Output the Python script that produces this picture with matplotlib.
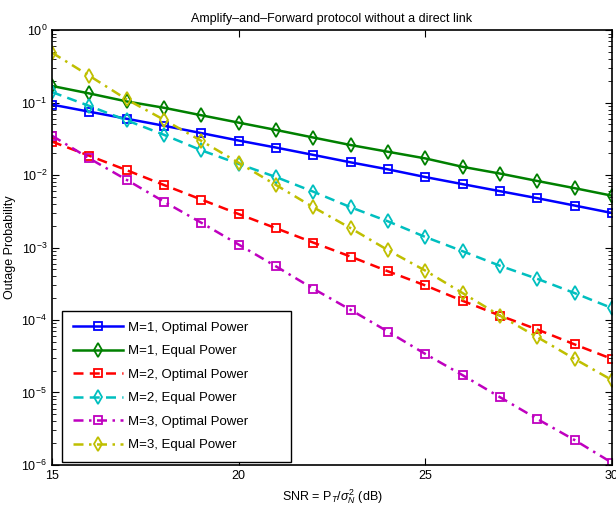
import matplotlib
matplotlib.use('Agg')
import matplotlib.pyplot as plt
from matplotlib.ticker import LogLocator, NullFormatter

plt.rcParams['font.family'] = ['Liberation Sans', 'DejaVu Sans']
plt.rcParams['mathtext.fontset'] = 'custom'
plt.rcParams['mathtext.rm'] = 'Liberation Sans'
plt.rcParams['mathtext.it'] = 'Liberation Sans:italic'

# SNR in dB
snr = list(range(15, 31))

# outage probability curves
m1_opt = [0.094, 0.075, 0.060, 0.048, 0.038, 0.030, 0.024, 0.019, 0.015, 0.012,
          0.0094, 0.0075, 0.0060, 0.0048, 0.0038, 0.0030]
m1_eq = [0.170, 0.134, 0.104, 0.085, 0.067, 0.053, 0.042, 0.033, 0.026, 0.021,
         0.017, 0.013, 0.0105, 0.0083, 0.0066, 0.0052]
m2_opt = [0.029, 0.0185, 0.0117, 0.0073, 0.0046, 0.0029, 0.00185, 0.00117, 0.00075, 0.00047,
          0.00030, 0.000184, 0.000115, 7.4e-5, 4.6e-5, 2.9e-5]
m2_eq = [0.14, 0.09, 0.057, 0.036, 0.022, 0.0143, 0.0094, 0.0059, 0.0036, 0.0023,
         0.0014, 0.00089, 0.00056, 0.00037, 0.000235, 0.000146]
m3_opt = [0.035, 0.017, 0.0086, 0.0043, 0.0022, 0.0011, 0.00055, 0.00027, 0.000138, 6.9e-5,
          3.4e-5, 1.73e-5, 8.6e-6, 4.3e-6, 2.2e-6, 1.07e-6]
m3_eq = [0.49, 0.235, 0.111, 0.058, 0.0297, 0.0148, 0.0073, 0.0036, 0.00185, 0.00092,
         0.00048, 0.000235, 0.000115, 5.8e-5, 2.9e-5, 1.48e-5]

labels = ['M=1, Optimal Power', 'M=1, Equal Power', 'M=2, Optimal Power',
          'M=2, Equal Power', 'M=3, Optimal Power', 'M=3, Equal Power']

dash = (0, (4, 2.5))
dashdot = (0, (4, 2.2, 1, 2.2))

fig = plt.figure(figsize=(6.16, 5.12), dpi=100)
ax = fig.add_axes([0.0844, 0.092, 0.9091, 0.849])

kw = dict(lw=1.8, mfc='none', mew=1.3)
ax.semilogy(snr, m1_opt, 's', ls='-', color='b', ms=6, label=labels[0], **kw)
ax.semilogy(snr, m1_eq, 'd', ls='-', color=(0, 0.5, 0), ms=7, label=labels[1], **kw)
ax.semilogy(snr, m2_opt, 's', ls=dash, color='r', ms=6, label=labels[2], **kw)
ax.semilogy(snr, m2_eq, 'd', ls=dash, color=(0, 0.75, 0.75), ms=7, label=labels[3], **kw)
ax.semilogy(snr, m3_opt, 's', ls=dashdot, color=(0.75, 0, 0.75), ms=6, label=labels[4], **kw)
ax.semilogy(snr, m3_eq, 'd', ls=dashdot, color=(0.75, 0.75, 0), ms=7, label=labels[5], **kw)

ax.set_xlim(15, 30)
ax.set_ylim(1e-6, 1)
ax.set_xticks([15, 20, 25, 30])
ax.yaxis.set_major_locator(LogLocator(base=10, numticks=10))
ax.yaxis.set_minor_locator(LogLocator(base=10, subs=range(2, 10), numticks=10))
ax.yaxis.set_minor_formatter(NullFormatter())
ax.tick_params(which='both', direction='in', top=True, right=True, labelsize=9)
ax.tick_params(which='major', length=5)
ax.tick_params(which='minor', length=3)
for s in ax.spines.values():
    s.set_linewidth(1.2)

ax.set_title('Amplify\u2013and\u2013Forward protocol without a direct link', fontsize=9)
ax.set_xlabel(r'SNR = P$_T$/$\sigma_N^2$ (dB)', fontsize=9)
ax.set_ylabel('Outage Probability', fontsize=9)

leg = ax.legend(loc='lower left', bbox_to_anchor=(0.018, 0.007, 0.409, 0.34), mode='expand',
                fontsize=9.5, fancybox=False, edgecolor='black', framealpha=1,
                handlelength=3.8, handletextpad=0.4, labelspacing=0.85,
                borderaxespad=0, borderpad=0.8)
leg.get_frame().set_linewidth(1)

fig.savefig('out.png', dpi=100)
